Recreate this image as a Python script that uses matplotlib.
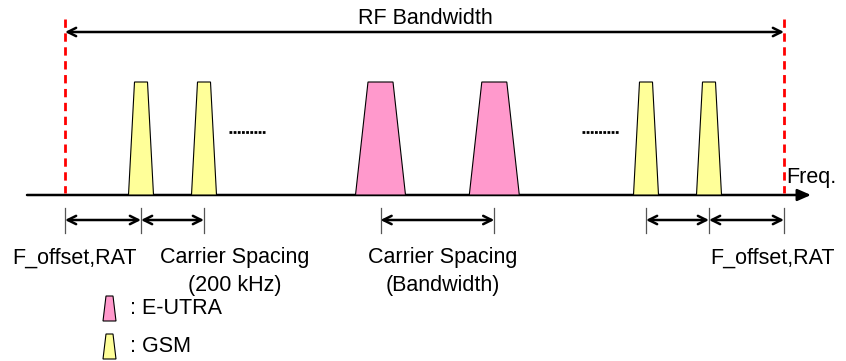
import matplotlib.pyplot as plt
from matplotlib.patches import Polygon

# carrier layout (diagram units = pixels of the original drawing, y grows downward)
gsm_centres = [141, 204, 646, 709]
eutra_centres = [380.5, 494.3]
gsm_bottom_w, gsm_top_w = 25, 13
eutra_bottom_w, eutra_top_w = 50, 25
baseline_y, carrier_top_y = 195, 82
rf_edges = [65, 784]
dim_ticks_left = [65, 141, 204]
dim_ticks_mid = [380.5, 494.3]
dim_ticks_right = [646, 709, 784]
labels = [(75, 258, 'F_offset,RAT'), (235, 258, 'Carrier Spacing'), (235, 286, '(200 kHz)'),
          (443, 258, 'Carrier Spacing'), (443, 286, '(Bandwidth)'), (773, 258, 'F_offset,RAT')]

pink = '#FF99CC'
yellow = '#FFFF99'
fs = 15.5
plt.rcParams['font.family'] = ['Liberation Sans', 'DejaVu Sans']

fig = plt.figure(figsize=(8.46, 3.61), dpi=100)
ax = fig.add_axes([0, 0, 1, 1])
ax.set_xlim(0, 846)
ax.set_ylim(361, 0)
ax.axis('off')


def carrier(xc, wb, wt, y0, y1, color):
    pts = [(xc - wb / 2, y0), (xc - wt / 2, y1), (xc + wt / 2, y1), (xc + wb / 2, y0)]
    ax.add_patch(Polygon(pts, closed=True, facecolor=color, edgecolor='black', lw=0.8, zorder=3))


for c in gsm_centres:
    carrier(c, gsm_bottom_w, gsm_top_w, baseline_y, carrier_top_y, yellow)
for c in eutra_centres:
    carrier(c, eutra_bottom_w, eutra_top_w, baseline_y, carrier_top_y, pink)

# frequency axis
ax.annotate('', xy=(811, baseline_y), xytext=(27, baseline_y),
            arrowprops=dict(arrowstyle='-|>,head_length=0.8,head_width=0.35', lw=1.8, color='black',
                            shrinkA=0, shrinkB=0), zorder=2)
ax.text(786, 177, 'Freq.', fontsize=fs, ha='left', va='center')

# RF bandwidth edges
for x in rf_edges:
    ax.plot([x, x], [19, 193], color='red', lw=2, ls=(0, (3, 2)), zorder=4)
ax.annotate('', xy=(rf_edges[1], 32), xytext=(rf_edges[0], 32),
            arrowprops=dict(arrowstyle='<->,head_length=0.6,head_width=0.3', lw=1.8, color='black',
                            shrinkA=0, shrinkB=0))
ax.text(425, 18, 'RF Bandwidth', fontsize=fs, ha='center', va='center',
        bbox=dict(facecolor='white', edgecolor='none', pad=0.5))

# dots between carriers
for x0, x1 in [(229, 265), (582, 619)]:
    ax.plot([x0, x1], [132, 132], color='black', lw=2, ls=(0, (1, 0.5)))

# dimension arrows below the axis
for ticks in [dim_ticks_left, dim_ticks_mid, dim_ticks_right]:
    for x in ticks:
        ax.plot([x, x], [208, 233], color='#555555', lw=0.9)
    for a, b in zip(ticks[:-1], ticks[1:]):
        ax.annotate('', xy=(b, 220), xytext=(a, 220),
                    arrowprops=dict(arrowstyle='<->,head_length=0.6,head_width=0.3', lw=1.8,
                                    color='black', shrinkA=0, shrinkB=0))

for x, y, s in labels:
    ax.text(x, y, s, fontsize=fs, ha='center', va='center')

# legend
carrier(109.5, 13, 7, 321, 296, pink)
carrier(109.5, 13, 7, 359, 334, yellow)
ax.text(130, 309, ': E-UTRA', fontsize=fs, ha='left', va='center')
ax.text(130, 346, ': GSM', fontsize=fs, ha='left', va='center')

fig.savefig('out.png', dpi=100)
